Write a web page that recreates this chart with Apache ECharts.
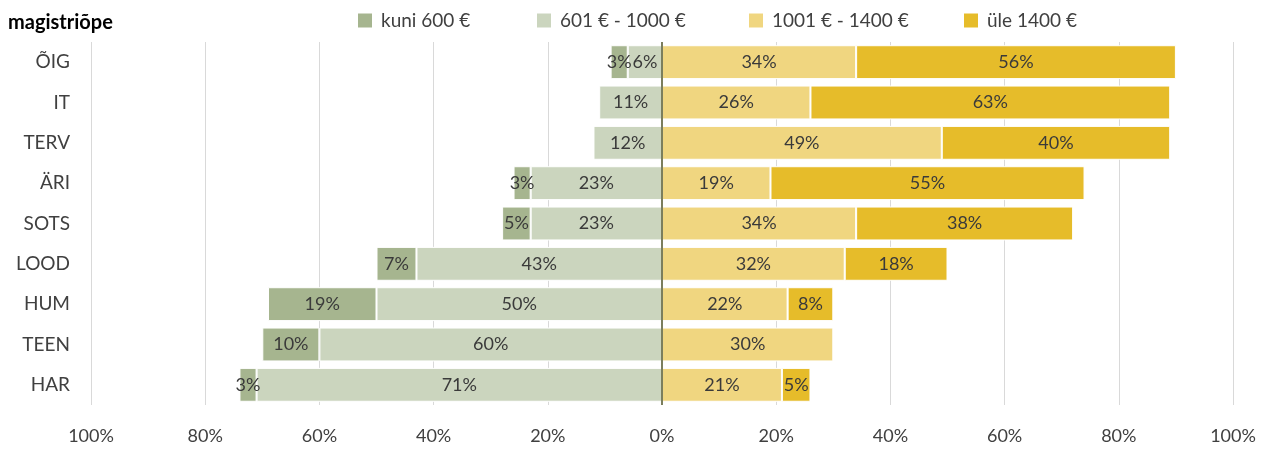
<!DOCTYPE html>
<html>
<head>
<meta charset="utf-8">
<script src="https://cdn.jsdelivr.net/npm/echarts@6/dist/echarts.min.js"></script>
<style>
  html, body { margin: 0; padding: 0; background: #fff; }
  #chart { width: 1268px; height: 449px; }
</style>
</head>
<body>
<div id="chart"></div>
<script>
// Data (percent shares per field, master's level)
const categories = ['ÕIG', 'IT', 'TERV', 'ÄRI', 'SOTS', 'LOOD', 'HUM', 'TEEN', 'HAR'];
const upTo600 = [3, 0, 0, 3, 5, 7, 19, 10, 3];
const from601to1000 = [6, 11, 12, 23, 23, 43, 50, 60, 71];
const from1001to1400 = [34, 26, 49, 19, 34, 32, 22, 30, 21];
const over1400 = [56, 63, 40, 55, 38, 18, 8, 0, 5];
const xTicks = [-100, -80, -60, -40, -20, 0, 20, 40, 60, 80, 100];

const names = ['kuni 600 €', '601 € - 1000 €', '1001 € - 1400 €', 'üle 1400 €'];
const colors = ['#a6b58f', '#cbd5be', '#f0d680', '#e6bc2a'];
const legendLeft = [356, 535, 747, 962];

const FONT = 'Lato, "Open Sans", sans-serif';

function barSeries(name, color, values, negative) {
    return {
        name: name,
        type: 'bar',
        stack: 'total',
        barWidth: '84%',
        itemStyle: { color: color, borderColor: '#ffffff', borderWidth: 1 },
        label: {
            show: true,
            position: 'inside',
            color: '#3a3a3a',
            fontFamily: FONT,
            fontSize: 18,
            formatter: p => (p.value === 0 ? '' : Math.abs(p.value) + '%')
        },
        data: values.map(v => (v === 0 ? null : (negative ? -v : v)))
    };
}

const chart = echarts.init(document.getElementById('chart'));

const series = [
    // negative side: series listed first sit closest to zero
    barSeries(names[1], colors[1], from601to1000, true),
    barSeries(names[0], colors[0], upTo600, true),
    barSeries(names[2], colors[2], from1001to1400, false),
    barSeries(names[3], colors[3], over1400, false)
];

series[0].markLine = {
    silent: true,
    symbol: 'none',
    label: { show: false },
    lineStyle: { color: '#7b7e5d', width: 2, type: 'solid' },
    data: [{ xAxis: 0 }]
};

const option = {
    animation: false,
    title: {
        text: 'magistriõpe',
        left: 3,
        top: 8,
        textStyle: { fontFamily: FONT, fontSize: 20, fontWeight: 'bold', color: '#000' }
    },
    legend: names.map((n, i) => ({
        data: [n],
        left: legendLeft[i],
        top: 11,
        padding: 0,
        itemWidth: 16,
        itemHeight: 16,
        itemGap: 8,
        icon: 'rect',
        textStyle: { fontFamily: FONT, fontSize: 19, color: '#404040', padding: [0, 0, 0, 3] },
        selectedMode: false
    })),
    grid: { left: 91, right: 35, top: 42, bottom: 44 },
    xAxis: {
        type: 'value',
        min: xTicks[0],
        max: xTicks[xTicks.length - 1],
        interval: 20,
        axisLine: { show: false },
        axisTick: { show: false },
        axisLabel: {
            margin: 22,
            fontFamily: FONT,
            fontSize: 18,
            color: '#404040',
            formatter: v => Math.abs(v) + '%'
        },
        splitLine: { lineStyle: { color: '#d9d9d9', width: 1 } }
    },
    yAxis: {
        type: 'category',
        data: categories,
        inverse: true,
        axisLine: { show: false },
        axisTick: { show: false },
        axisLabel: { margin: 21, fontFamily: FONT, fontSize: 19, color: '#404040' }
    },
    series: series
};

chart.setOption(option);
</script>
</body>
</html>
